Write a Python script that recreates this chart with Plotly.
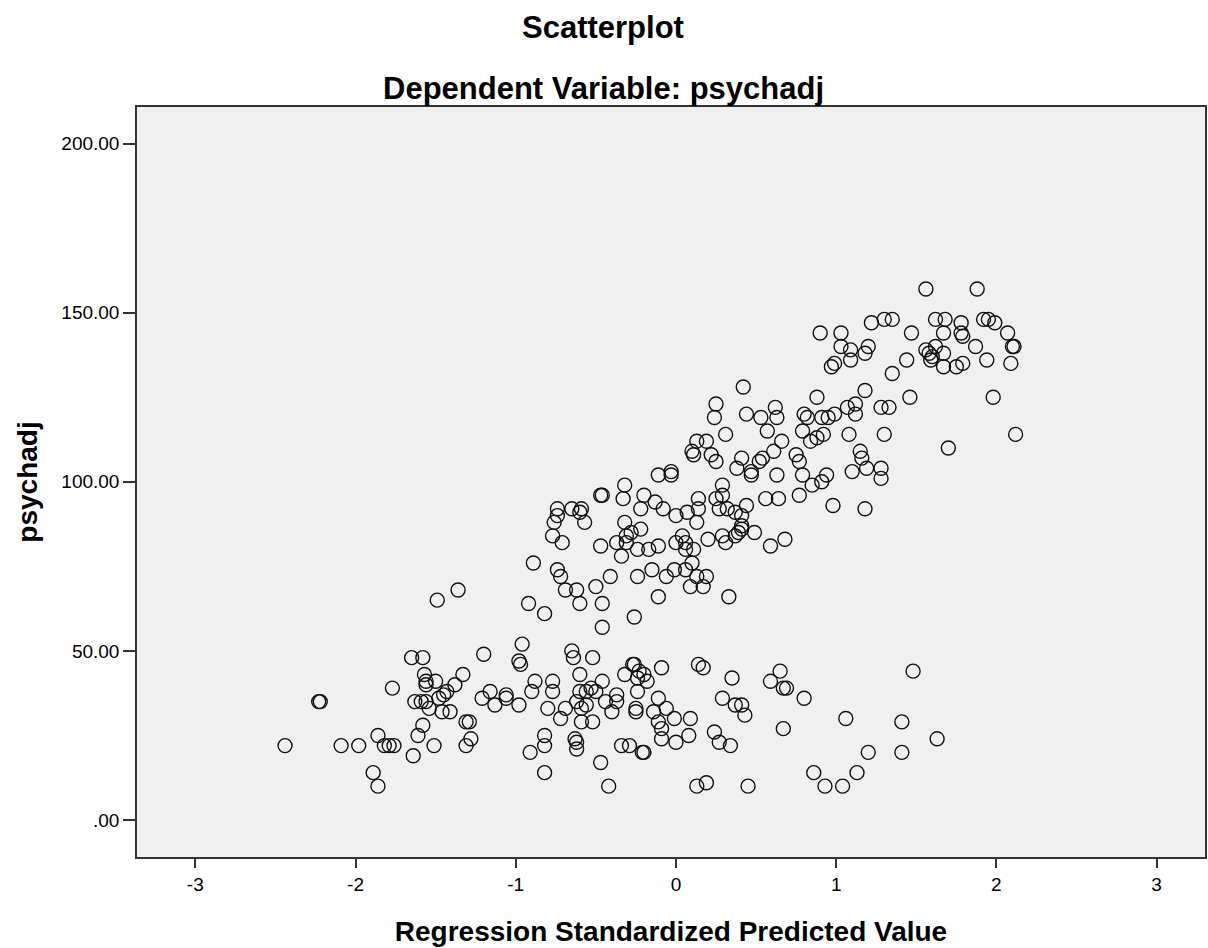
import plotly.graph_objects as go

# Regression standardized predicted value (x) and psychadj (y)
pred = [
    1.56, 1.88, 1.22, 1.30, 1.35, 1.62, 1.68, 1.78, 1.92, 1.95, 1.99,
    0.90, 1.03, 1.47, 1.67, 1.78, 1.79, 2.07, 1.03, 1.09, 1.20, 1.18,
    1.87, 2.11, 2.10, 1.56, 1.58, 1.60, 1.62, 1.67, 1.09, 0.99, 0.97,
    1.44, 1.59, 1.67, 1.75, 1.79, 1.94, 2.09, 1.35,
    1.18, 0.88, 1.46, 1.98, 1.07, 1.12, 1.12, 1.28, 1.33, 0.91, 0.95,
    0.99, 0.92, 1.08, 1.30, 1.70, 2.12, 1.15, 1.16, 0.94, 0.91, 1.10,
    1.19, 1.28, 1.28, 0.98, 1.18,
    0.42, 0.25, 0.24, 0.44, 0.53, 0.62, 0.63, 0.57, 0.80, 0.82, 0.79,
    0.84, 0.88, 0.31, 0.13, 0.19, 0.10, 0.11, 0.22, 0.25, 0.66, 0.61,
    0.54, 0.52, 0.41, 0.38, 0.47, 0.47, 0.63, 0.75, 0.77, 0.79, 0.85,
    -0.11, -0.03, -0.03, -0.32, -0.20, 0.29, 0.29, 0.77,
    -0.33, -0.22, -0.13, -0.08, 0.00, 0.07, 0.14, 0.13, 0.14, 0.25,
    0.32, 0.27, 0.37, 0.44, 0.41, 0.56, 0.64, -0.32, -0.22, -0.31,
    -0.28, -0.31, -0.37, -0.47, -0.34, -0.24, -0.17, -0.11, 0.00, 0.04,
    0.06, 0.06, 0.11, 0.20, 0.29, 0.31, 0.37, 0.39, 0.41, 0.41, 0.49,
    0.59, 0.68, 0.10, -0.01, 0.06, -0.15, -0.06, -0.24, -0.41, -0.50,
    -0.46, 0.13, 0.19, 0.09, 0.17, -0.11, 0.33,
    -0.47, -0.46, -0.74, -0.65, -0.59, -0.60, -0.74, -0.76, -0.57,
    -0.77, -0.71, -0.89, -0.74, -0.72, -0.69, -0.62, -1.36, -1.49,
    -0.92, -0.60, -0.82, -0.46, -0.26,
    -1.65, -1.58, -1.57, -1.56, -1.56, -1.50, -1.33, -1.38, -1.43,
    -1.45, -1.77, -2.22, -2.23, -1.63, -1.59, -1.56, -1.54, -1.48,
    -1.46, -1.41, -1.58, -1.61, -1.51, -1.64, -1.86, -1.82, -1.79,
    -1.76, -1.98, -2.09, -2.44, -1.89, -1.86,
    -0.96, -1.20, -0.98, -0.97, -0.65, -0.64, -0.52, -0.60, -0.46,
    -0.32, -0.27, -0.88, -0.77, -0.90, -0.77, -1.16, -1.06, -0.60,
    -0.56, -0.53, -0.50, -0.37, -0.24,
    -1.21, -1.13, -1.06, -0.98, -0.80, -0.72, -0.69, -0.62, -0.59,
    -0.56, -0.52, -0.59, -0.44, -0.40, -0.37, -0.25, -0.25, -1.31,
    -1.29, -1.28, -1.31, -0.82, -0.82, -0.91, -0.63, -0.62, -0.62,
    -0.34, -0.29, -0.21, -0.47, -0.82, -0.42,
    1.48, -0.26, -0.09, 0.14, 0.17, 0.35, 0.65, 0.59, 0.67, 0.69,
    -0.23, -0.20, -0.24, -0.18, -0.11, 0.29, 0.80,
    0.37, 0.41, 0.43, -0.14, -0.11, -0.09, -0.06, -0.01, 0.09, 0.08,
    -0.09, 0.00, 0.24, 0.27, 0.34, -0.20, 0.67, 1.06, 1.41, 1.63,
    1.20, 1.41, 0.86, 1.13, 0.13, 0.19, 0.45, 0.93, 1.04,
]

psychadj = [
    157, 157, 147, 148, 148, 148, 148, 147, 148, 148, 147,
    144, 144, 144, 144, 144, 143, 144, 140, 139, 140, 138,
    140, 140, 140, 139, 138, 137, 140, 138, 136, 135, 134,
    136, 136, 134, 134, 135, 136, 135, 132,
    127, 125, 125, 125, 122, 123, 120, 122, 122, 119, 119,
    120, 114, 114, 114, 110, 114, 109, 107, 102, 100, 103,
    104, 104, 101, 93, 92,
    128, 123, 119, 120, 119, 122, 119, 115, 120, 119, 115,
    112, 113, 114, 112, 112, 109, 108, 108, 106, 112, 109,
    107, 106, 107, 104, 103, 102, 102, 108, 106, 102, 99,
    102, 103, 102, 99, 96, 99, 96, 96,
    95, 92, 94, 92, 90, 91, 92, 88, 95, 95,
    92, 92, 91, 93, 90, 95, 95, 88, 86, 84,
    85, 82, 82, 81, 78, 80, 80, 81, 82, 84,
    82, 80, 80, 83, 84, 82, 84, 85, 86, 87, 85,
    81, 83, 76, 74, 74, 74, 72, 72, 72, 69,
    64, 72, 72, 69, 69, 66, 66,
    96, 96, 92, 92, 92, 91, 90, 88, 88,
    84, 82, 76, 74, 72, 68, 68, 68, 65,
    64, 64, 61, 57, 60,
    48, 48, 43, 41, 40, 41, 43, 40, 38,
    37, 39, 35, 35, 35, 35, 35, 33, 36,
    32, 32, 28, 25, 22, 19, 25, 22, 22,
    22, 22, 22, 22, 14, 10,
    52, 49, 47, 46, 50, 48, 48, 43, 41,
    43, 46, 41, 41, 38, 38, 38, 37, 38,
    38, 39, 38, 37, 38,
    36, 34, 36, 34, 33, 30, 33, 35, 33,
    34, 29, 29, 35, 32, 35, 33, 32, 29,
    29, 24, 22, 25, 22, 20, 24, 23, 21,
    22, 22, 20, 17, 14, 10,
    44, 46, 45, 46, 45, 42, 44, 41, 39, 39,
    44, 43, 42, 41, 36, 36, 36,
    34, 34, 31, 32, 29, 27, 33, 30, 30, 25,
    24, 23, 26, 23, 22, 20, 27, 30, 29, 24,
    20, 20, 14, 14, 10, 11, 10, 10, 10,
]

x_tick_vals = [-3, -2, -1, 0, 1, 2, 3]
x_tick_text = ["-3", "-2", "-1", "0", "1", "2", "3"]
y_tick_vals = [0, 50, 100, 150, 200]
y_tick_text = [".00", "50.00", "100.00", "150.00", "200.00"]

FONT = "Liberation Sans, Arial, sans-serif"

fig = go.Figure()
fig.add_trace(go.Scatter(
    x=pred, y=psychadj, mode="markers",
    marker=dict(symbol="circle-open", size=14, color="#111111",
                line=dict(width=1.4, color="#111111")),
    showlegend=False, hoverinfo="x+y",
))

# titles are centred on the whole figure, not on the plot area
title_x = (604 - 137) / 1070

fig.update_layout(
    width=1208, height=948,
    paper_bgcolor="white", plot_bgcolor="#f0f0f0",
    margin=dict(l=137, r=1, t=107, b=91),
    font=dict(family=FONT, color="black"),
    annotations=[
        dict(text="<b>Scatterplot</b>", xref="paper", yref="paper",
             x=title_x, y=1, yshift=80, xanchor="center", yanchor="middle",
             showarrow=False, font=dict(size=31, family=FONT)),
        dict(text="<b>Dependent Variable: psychadj</b>", xref="paper", yref="paper",
             x=title_x, y=1, yshift=19, xanchor="center", yanchor="middle",
             showarrow=False, font=dict(size=31, family=FONT)),
    ],
)

fig.update_xaxes(
    range=[-3.364, 3.302], tickvals=x_tick_vals, ticktext=x_tick_text,
    ticks="outside", ticklen=9, tickwidth=1.5, tickcolor="#333333",
    showgrid=False, zeroline=False,
    showline=True, linecolor="#333333", linewidth=1.5, mirror=True,
    tickfont=dict(size=19, family=FONT),
    title=dict(text="<b>Regression Standardized Predicted Value</b>",
               font=dict(size=28, family=FONT), standoff=28),
)
fig.update_yaxes(
    range=[-10.94, 210.8], tickvals=y_tick_vals, ticktext=y_tick_text,
    ticks="outside", ticklen=12, tickwidth=1.5, tickcolor="#333333",
    showgrid=False, zeroline=False,
    showline=True, linecolor="#333333", linewidth=1.5, mirror=True,
    tickfont=dict(size=19, family=FONT),
    title=dict(text="<b>psychadj</b>", font=dict(size=28, family=FONT), standoff=16),
)

fig.write_html("out.html", config={"displayModeBar": False},
               post_script="document.body.style.margin='0';document.body.style.overflow='hidden';")
